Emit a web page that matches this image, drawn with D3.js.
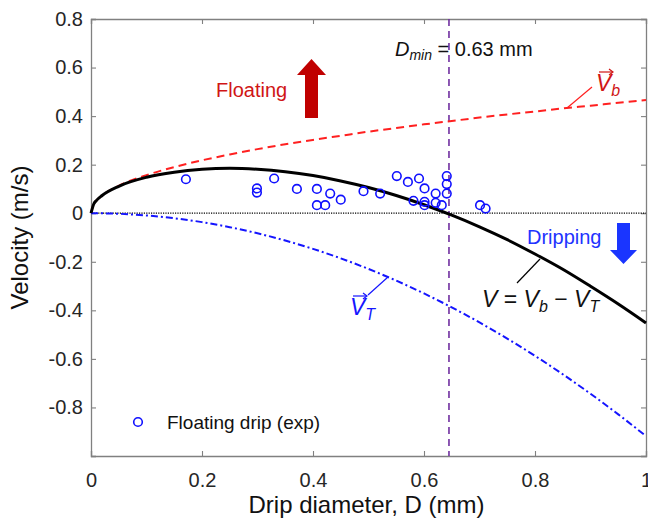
<!DOCTYPE html>
<html><head><meta charset="utf-8">
<script src="https://cdn.jsdelivr.net/npm/d3@7"></script>
<style>
html,body{margin:0;padding:0;background:#fff;}
svg{display:block;}
text{font-family:"Liberation Sans",Arial,sans-serif;}
</style></head>
<body>
<svg id="chart" width="648" height="523"></svg>
<script>
// ---- data ----
const diam = [0,0.005,0.01,0.02,0.05,0.1,0.15,0.2,0.25,0.3,0.35,0.4,0.45,0.5,0.55,0.6,0.65,0.7,0.75,0.8,0.85,0.9,0.95,1.0];
const vBuoy = [0,0.038,0.053,0.073,0.113,0.157,0.190,0.218,0.242,0.264,0.284,0.302,0.319,0.336,0.351,0.366,0.380,0.394,0.407,0.419,0.432,0.443,0.455,0.466];
const vTerm = [0,0,-0.0001,-0.0004,-0.0023,-0.0092,-0.0207,-0.0367,-0.0574,-0.0826,-0.1125,-0.1469,-0.1859,-0.2295,-0.2777,-0.3305,-0.3879,-0.4498,-0.5164,-0.5875,-0.6633,-0.7436,-0.8285,-0.918];
const vNet = [0,0.038,0.053,0.073,0.111,0.148,0.169,0.181,0.185,0.181,0.171,0.155,0.133,0.106,0.073,0.035,-0.008,-0.056,-0.109,-0.168,-0.231,-0.301,-0.374,-0.452];
const expD = [0.171,0.299,0.299,0.330,0.371,0.407,0.407,0.422,0.431,0.450,0.491,0.521,0.551,0.571,0.591,0.601,0.581,0.601,0.601,0.621,0.621,0.632,0.641,0.641,0.641,0.701,0.711];
const expV = [0.140,0.102,0.085,0.143,0.100,0.100,0.033,0.033,0.081,0.056,0.091,0.081,0.153,0.129,0.143,0.102,0.051,0.047,0.033,0.081,0.043,0.033,0.153,0.120,0.081,0.033,0.019];
const dMin = 0.645;
const xTicks = [0,0.2,0.4,0.6,0.8,1];
const yTicks = [-1,-0.8,-0.6,-0.4,-0.2,0,0.2,0.4,0.6,0.8];

const L=91,R=646,T=19,B=456;
const x = d3.scaleLinear().domain([0,1]).range([L,R]);
const y = d3.scaleLinear().domain([-1,0.8]).range([B,T]);
const svg = d3.select("#chart");

const axisCol="#808080", tickTxt="#262626";
const fmt = d => d===-1 ? "" : String(+d.toFixed(1));

// axes
const gl = svg.append("g").attr("transform",`translate(${L},0)`)
  .call(d3.axisLeft(y).tickValues(yTicks).tickSize(-5).tickPadding(8).tickFormat(fmt));
const gr = svg.append("g").attr("transform",`translate(${R},0)`)
  .call(d3.axisRight(y).tickValues(yTicks).tickSize(-5).tickFormat(""));
const gb = svg.append("g").attr("transform",`translate(0,${B})`)
  .call(d3.axisBottom(x).tickValues(xTicks).tickSize(-5).tickPadding(17).tickFormat(fmt));
const gt = svg.append("g").attr("transform",`translate(0,${T})`)
  .call(d3.axisTop(x).tickValues(xTicks).tickSize(-5).tickFormat(""));
[gl,gr,gb,gt].forEach(g=>{
  g.select(".domain").attr("stroke",axisCol).attr("stroke-width",1.3);
  g.selectAll(".tick line").attr("stroke",axisCol).attr("stroke-width",1.1);
  g.selectAll(".tick text").attr("fill",tickTxt).attr("font-size",20).attr("font-family","Liberation Sans, Arial, sans-serif");
});

// zero line
svg.append("line").attr("x1",x(0)).attr("x2",x(1)).attr("y1",y(0)).attr("y2",y(0))
  .attr("stroke","#000").attr("stroke-width",1.2).attr("stroke-dasharray","1.2,1.2");

// vertical Dmin line
svg.append("line").attr("x1",x(dMin)).attr("x2",x(dMin)).attr("y1",T).attr("y2",B)
  .attr("stroke","#7030A0").attr("stroke-width",1.6).attr("stroke-dasharray","7,5");

const line = vals => d3.line().x((d,i)=>x(diam[i])).y(d=>y(d)).curve(d3.curveMonotoneX)(vals);

svg.append("path").attr("d",line(vBuoy)).attr("fill","none").attr("stroke","#FF2020")
  .attr("stroke-width",2).attr("stroke-dasharray","8,5");
svg.append("path").attr("d",line(vTerm)).attr("fill","none").attr("stroke","#1515FF")
  .attr("stroke-width",2).attr("stroke-dasharray","7,3,2,3");
svg.append("path").attr("d",line(vNet)).attr("fill","none").attr("stroke","#000")
  .attr("stroke-width",3);

// experiment points
svg.append("g").selectAll("circle").data(expD).join("circle")
  .attr("cx",d=>x(d)).attr("cy",(d,i)=>y(expV[i])).attr("r",4.3)
  .attr("fill","none").attr("stroke","#1010FF").attr("stroke-width",1.6);

// legend
svg.append("circle").attr("cx",138).attr("cy",422).attr("r",4.3).attr("fill","none").attr("stroke","#1010FF").attr("stroke-width",1.6);
svg.append("text").attr("x",167).attr("y",422).attr("dy","0.35em").attr("font-size",19).attr("fill","#111").text("Floating drip (exp)");

// axis titles
svg.append("text").attr("x",(L+R)/2-2).attr("y",513).attr("text-anchor","middle").attr("font-size",24).attr("fill","#111").text("Drip diameter, D (mm)");
svg.append("text").attr("transform",`translate(28,${(T+B)/2}) rotate(-90)`).attr("text-anchor","middle").attr("font-size",24).attr("fill","#111").text("Velocity (m/s)");

// Dmin label
const dm = svg.append("text").attr("x",395).attr("y",56).attr("font-size",20).attr("fill","#111");
dm.append("tspan").attr("font-style","italic").text("D");
dm.append("tspan").attr("font-style","italic").attr("font-size",14).attr("dy",4).text("min");
dm.append("tspan").attr("dy",-4).text(" = 0.63 mm");

// Floating
svg.append("text").attr("x",216).attr("y",97).attr("font-size",20).attr("fill","#D01515").text("Floating");
svg.append("path").attr("d","M305,118 L305,75 L297,75 L311.5,59 L326,75 L318,75 L318,118 Z").attr("fill","#C00000");

// Dripping
svg.append("text").attr("x",527).attr("y",244).attr("font-size",20).attr("fill","#2233FF").text("Dripping");
svg.append("path").attr("d","M617,223 L630,223 L630,250 L637,250 L623.5,264 L610,250 L617,250 Z").attr("fill","#1A35FF");

// math labels helper
function vecV(g, xx, yy, sub, col){
  const t = g.append("text").attr("x",xx).attr("y",yy).attr("font-family","Liberation Serif, DejaVu Serif, serif")
    .attr("font-style","italic").attr("font-size",23).attr("fill",col);
  t.append("tspan").text("V");
  t.append("tspan").attr("font-size",16).attr("dy",5).text(sub);
  g.append("line").attr("x1",xx+3).attr("x2",xx+16).attr("y1",yy-19).attr("y2",yy-19).attr("stroke",col).attr("stroke-width",1.2);
  g.append("path").attr("d",`M${xx+13},${yy-22} L${xx+17},${yy-19} L${xx+13},${yy-16}`).attr("fill","none").attr("stroke",col).attr("stroke-width",1.2);
}
// Vb label + leader
svg.append("line").attr("x1",567).attr("y1",108).attr("x2",592).attr("y2",87).attr("stroke","#FF2020").attr("stroke-width",1.2);
vecV(svg,596,91,"b","#D01515");
// VT label + leader
svg.append("line").attr("x1",368).attr("y1",295).attr("x2",388).attr("y2",277).attr("stroke","#1515FF").attr("stroke-width",1.2);
vecV(svg,350,315,"T","#1515FF");
// V = Vb - VT
svg.append("line").attr("x1",517).attr("y1",283).attr("x2",540).attr("y2",259).attr("stroke","#000").attr("stroke-width",1.2);
const eq = svg.append("text").attr("x",482).attr("y",307).attr("font-family","Liberation Serif, DejaVu Serif, serif").attr("font-size",23).attr("fill","#111");
eq.append("tspan").attr("font-style","italic").text("V");
eq.append("tspan").text(" = ");
eq.append("tspan").attr("font-style","italic").text("V");
eq.append("tspan").attr("font-style","italic").attr("font-size",16).attr("dy",5).text("b");
eq.append("tspan").attr("dy",-5).text(" − ");
eq.append("tspan").attr("font-style","italic").text("V");
eq.append("tspan").attr("font-style","italic").attr("font-size",16).attr("dy",5).text("T");
</script>
</body></html>
